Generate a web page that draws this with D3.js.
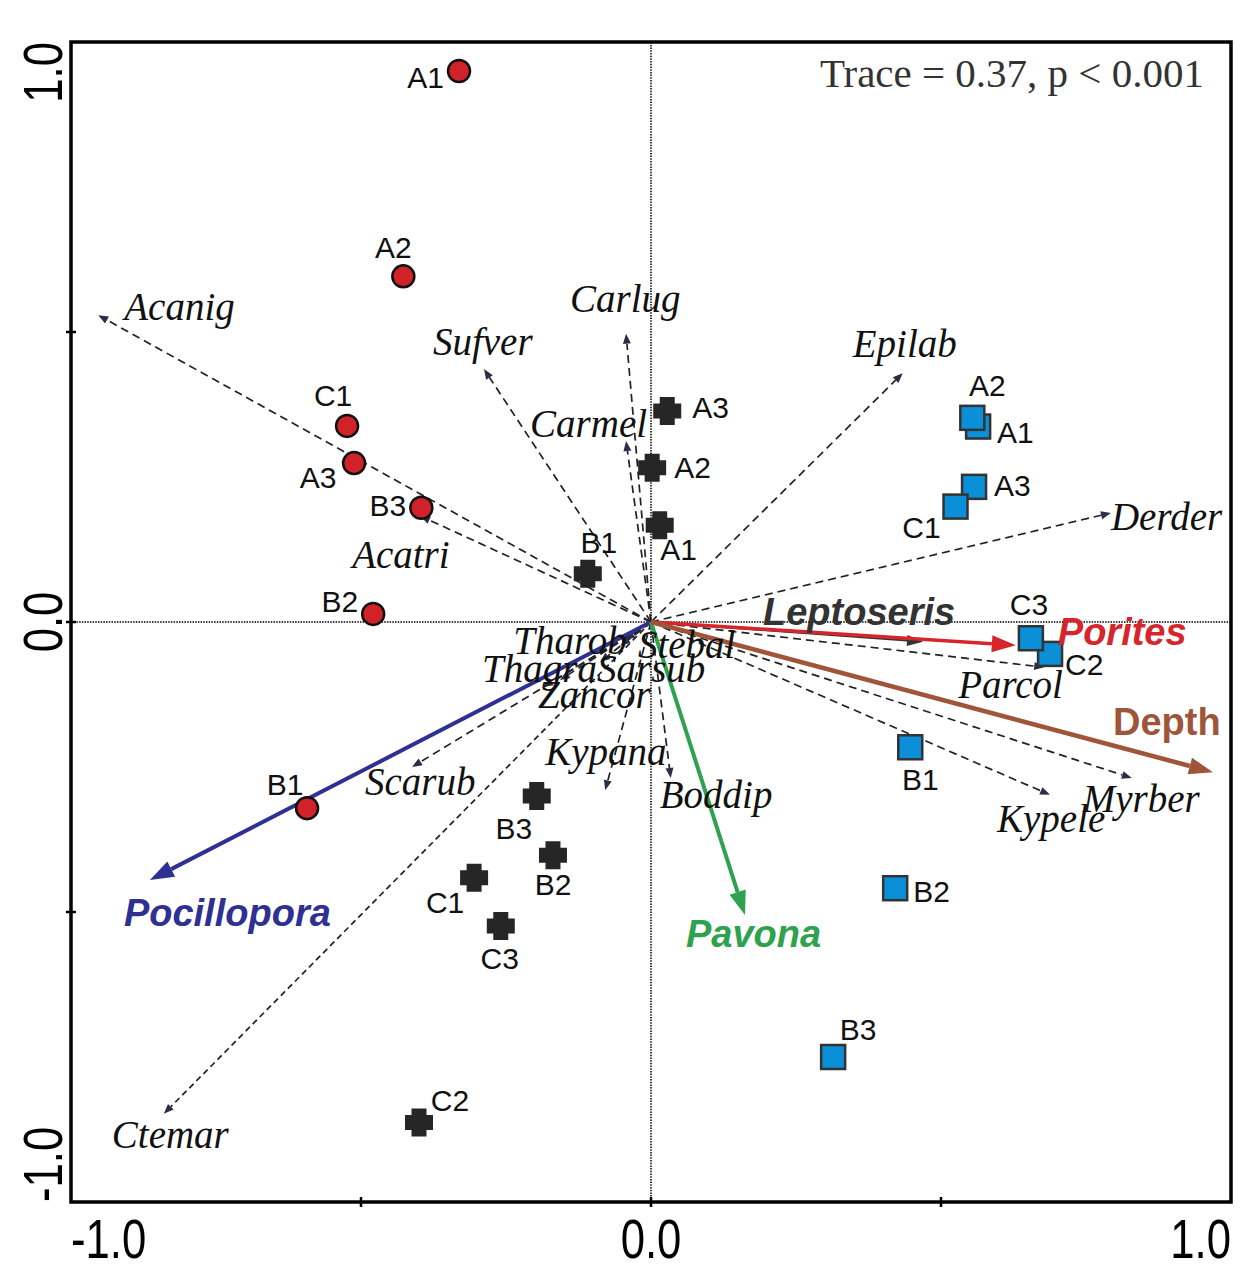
<!DOCTYPE html>
<html>
<head>
<meta charset="utf-8">
<script src="https://cdn.jsdelivr.net/npm/d3@7"></script>
<style>
  body { margin: 0; background: #fff; }
</style>
</head>
<body>
<div id="chart"></div>
<script>
// sample scores on axis 1 / axis 2, one set per group
const circleSites = ['A1', 'A2', 'A3', 'B1', 'B2', 'B3', 'C1'];
const circleAx1 = [-0.331, -0.427, -0.512, -0.593, -0.479, -0.396, -0.524];
const circleAx2 = [0.950, 0.596, 0.274, -0.321, 0.014, 0.197, 0.338];

const crossSites = ['A1', 'A2', 'A3', 'B1', 'B2', 'B3', 'C1', 'C2', 'C3'];
const crossAx1 = [0.015, 0.002, 0.028, -0.109, -0.169, -0.197, -0.305, -0.400, -0.259];
const crossAx2 = [0.167, 0.266, 0.364, 0.083, -0.402, -0.300, -0.441, -0.863, -0.524];

const squareSites = ['A1', 'A2', 'A3', 'B1', 'B2', 'B3', 'C1', 'C2', 'C3'];
const squareAx1 = [0.564, 0.554, 0.557, 0.447, 0.421, 0.314, 0.525, 0.688, 0.655];
const squareAx2 = [0.337, 0.352, 0.233, -0.216, -0.459, -0.750, 0.199, -0.055, -0.028];

// species vectors
const species = ['Acanig', 'Acatri', 'Sufver', 'Carlug', 'Carmel', 'Epilab', 'Derder', 'Parcol', 'Myrber',
  'Kypele', 'Boddip', 'Kypana', 'Zancor', 'Sarsub', 'Thagra', 'Tharob', 'Stebal', 'Scarub', 'Ctemar'];
const speciesAx1 = [-0.953, -0.398, -0.288, -0.043, -0.043, 0.434, 0.793, 0.678, 0.829,
  0.688, 0.034, -0.079, -0.157, -0.088, -0.186, -0.053, -0.045, -0.412, -0.840];
const speciesAx2 = [0.529, 0.183, 0.436, 0.497, 0.312, 0.429, 0.188, -0.078, -0.269,
  -0.298, -0.269, -0.290, -0.100, -0.069, -0.112, -0.041, -0.031, -0.250, -0.848];

// explanatory vectors
const predictors = ['Pocillopora', 'Pavona', 'Leptoseris', 'Porites', 'Depth'];
const predictorAx1 = [-0.864, 0.162, 0.469, 0.629, 0.969];
const predictorAx2 = [-0.445, -0.505, -0.034, -0.040, -0.259];

const minorTicks = [-0.5, 0, 0.5];
const tickValues = [-1, 0, 1];
const tickLabels = ['-1.0', '0.0', '1.0'];
const statText = 'Trace = 0.37, p < 0.001';

// label placement (px offsets from the mark)
const circleLab = { A1: [-15, 17, 'end'], A2: [-10, -18, 'middle'], A3: [-36, 25, 'middle'], B1: [-22, -13, 'middle'],
  B2: [-15, -2, 'end'], B3: [-15, 8, 'end'], C1: [-14, -20, 'middle'] };
const crossLab = { A1: [19, 35, 'middle'], A2: [22, 10, 'start'], A3: [25, 7, 'start'], B1: [11, -21, 'middle'],
  B2: [0, 40, 'middle'], B3: [-23, 43, 'middle'], C1: [-29, 35, 'middle'], C2: [31, -12, 'middle'], C3: [-1, 43, 'middle'] };
const squareLab = { A1: [19, 16, 'start'], A2: [15, -22, 'middle'], A3: [20, 9, 'start'], B1: [10, 43, 'middle'],
  B2: [18, 14, 'start'], B3: [25, -17, 'middle'], C1: [-34, 31, 'middle'], C2: [15, 21, 'start'], C3: [-2, -23, 'middle'] };
const speciesLab = { Acanig: [26, 5], Acatri: [-68, 52], Sufver: [-51, -14], Carlug: [-56, -22], Carmel: [-96, -4],
  Epilab: [-50, -16], Derder: [0, 17], Parcol: [-86, 31], Myrber: [-49, 34], Kypele: [-53, 37], Boddip: [-11, 30],
  Kypana: [-60, -25], Zancor: [-22, 28], Sarsub: [-3, 20], Thagra: [-61, -5], Tharob: [-107, 8], Stebal: [13, 18],
  Scarub: [-47, 28], Ctemar: [-52, 34] };
const predictorStyle = {
  Pocillopora: { color: '#2e3192', w: 4, lab: [-26, 46], italic: true },
  Pavona: { color: '#2ea24e', w: 4, lab: [-59, 32], italic: true },
  Leptoseris: { color: '#333333', w: 2, lab: [-160, -17], italic: true },
  Porites: { color: '#d7262b', w: 3.5, lab: [42, 0], italic: true },
  Depth: { color: '#a0553a', w: 4.5, lab: [-100, -37], italic: false }
};

const W = 1260, H = 1276;
const x = d3.scaleLinear().domain([-1, 1]).range([71, 1231]);
const y = d3.scaleLinear().domain([-1, 1]).range([1202, 42]);

const svg = d3.select('#chart').append('svg')
  .attr('width', W)
  .attr('height', H)
  .style('font-family', 'Arial, "Liberation Sans", sans-serif');

svg.append('rect').attr('width', W).attr('height', H).attr('fill', '#fff');

// dotted zero lines
svg.append('line')
  .attr('x1', x(-1)).attr('x2', x(1)).attr('y1', y(0)).attr('y2', y(0))
  .attr('stroke', '#000').attr('stroke-width', 1.5).attr('stroke-dasharray', '1.5,1.2');
svg.append('line')
  .attr('x1', x(0)).attr('x2', x(0)).attr('y1', y(-1)).attr('y2', y(1))
  .attr('stroke', '#000').attr('stroke-width', 1.5).attr('stroke-dasharray', '1.5,1.2');

// draws a line from the origin with a triangular head at (tx, ty)
function vector(g, tx, ty, len, half) {
  const ox = x(0), oy = y(0);
  const ang = Math.atan2(ty - oy, tx - ox);
  const c = Math.cos(ang), s = Math.sin(ang);
  const bx = tx - len * c, by = ty - len * s;
  const line = g.append('line').attr('x1', ox).attr('y1', oy).attr('x2', bx).attr('y2', by);
  const head = g.append('path')
    .attr('d', 'M' + tx + ',' + ty +
      'L' + (bx - half * s) + ',' + (by + half * c) +
      'L' + (bx + half * s) + ',' + (by - half * c) + 'Z');
  return { line, head };
}

// species vectors (dashed)
const spG = svg.append('g');
species.forEach((name, i) => {
  const v = vector(spG, x(speciesAx1[i]), y(speciesAx2[i]), 10, 4);
  v.line.attr('stroke', '#222').attr('stroke-width', 1.7)
    .attr('stroke-dasharray', name === 'Ctemar' ? '6,4' : '8,5');
  v.head.attr('fill', '#2d2d48');
});

// explanatory vectors (solid)
const prG = svg.append('g');
predictors.forEach((name, i) => {
  const st = predictorStyle[name];
  const small = name === 'Leptoseris';
  const v = vector(prG, x(predictorAx1[i]), y(predictorAx2[i]), small ? 16 : 24, small ? 5.5 : 8.5);
  v.line.attr('stroke', st.color).attr('stroke-width', st.w);
  v.head.attr('fill', st.color);
});

// sample markers
const crossType = {
  draw(ctx) {
    const a = 14, b = 7.5;
    ctx.moveTo(-b, -a); ctx.lineTo(b, -a); ctx.lineTo(b, -b); ctx.lineTo(a, -b); ctx.lineTo(a, b);
    ctx.lineTo(b, b); ctx.lineTo(b, a); ctx.lineTo(-b, a); ctx.lineTo(-b, b); ctx.lineTo(-a, b);
    ctx.lineTo(-a, -b); ctx.lineTo(-b, -b); ctx.closePath();
  }
};

const mk = svg.append('g');
mk.selectAll('.cross').data(crossSites).enter().append('path')
  .attr('class', 'cross')
  .attr('d', d3.symbol().type(crossType)())
  .attr('transform', (d, i) => 'translate(' + x(crossAx1[i]) + ',' + y(crossAx2[i]) + ')')
  .attr('fill', '#262626');

mk.selectAll('.sq').data(squareSites).enter().append('rect')
  .attr('class', 'sq')
  .attr('x', (d, i) => x(squareAx1[i]) - 12)
  .attr('y', (d, i) => y(squareAx2[i]) - 12)
  .attr('width', 24).attr('height', 24)
  .attr('fill', '#0a8fd8').attr('stroke', '#333').attr('stroke-width', 2.5);

mk.selectAll('.dot').data(circleSites).enter().append('circle')
  .attr('class', 'dot')
  .attr('cx', (d, i) => x(circleAx1[i]))
  .attr('cy', (d, i) => y(circleAx2[i]))
  .attr('r', 11)
  .attr('fill', '#d12229').attr('stroke', '#111').attr('stroke-width', 2.5);

// sample labels
function siteLabels(sites, ax1, ax2, lab) {
  svg.append('g').selectAll('text').data(sites).enter().append('text')
    .attr('x', (d, i) => x(ax1[i]) + lab[d][0])
    .attr('y', (d, i) => y(ax2[i]) + lab[d][1])
    .attr('text-anchor', d => lab[d][2])
    .attr('font-size', 30)
    .attr('fill', '#111')
    .text(d => d);
}
siteLabels(circleSites, circleAx1, circleAx2, circleLab);
siteLabels(crossSites, crossAx1, crossAx2, crossLab);
siteLabels(squareSites, squareAx1, squareAx2, squareLab);

// species labels
svg.append('g').selectAll('text').data(species).enter().append('text')
  .attr('x', (d, i) => x(speciesAx1[i]) + speciesLab[d][0])
  .attr('y', (d, i) => y(speciesAx2[i]) + speciesLab[d][1])
  .attr('font-family', '"Liberation Serif", "Times New Roman", serif')
  .attr('font-style', 'italic')
  .attr('font-size', 39)
  .attr('fill', '#111')
  .text(d => d);

// predictor labels
svg.append('g').selectAll('text').data(predictors).enter().append('text')
  .attr('x', (d, i) => x(predictorAx1[i]) + predictorStyle[d].lab[0])
  .attr('y', (d, i) => y(predictorAx2[i]) + predictorStyle[d].lab[1])
  .attr('font-weight', 'bold')
  .attr('font-style', d => predictorStyle[d].italic ? 'italic' : 'normal')
  .attr('font-size', 38)
  .attr('fill', d => predictorStyle[d].color)
  .text(d => d);

// frame
svg.append('rect')
  .attr('x', x(-1)).attr('y', y(1))
  .attr('width', x(1) - x(-1)).attr('height', y(-1) - y(1))
  .attr('fill', 'none').attr('stroke', '#000').attr('stroke-width', 3.5);

// ticks
svg.append('g').selectAll('line').data(minorTicks).enter().append('line')
  .attr('x1', d => x(d)).attr('x2', d => x(d))
  .attr('y1', y(-1) - 5).attr('y2', y(-1) + 5)
  .attr('stroke', '#000').attr('stroke-width', 2.5);
svg.append('g').selectAll('line').data(minorTicks).enter().append('line')
  .attr('y1', d => y(d)).attr('y2', d => y(d))
  .attr('x1', x(-1) - 5).attr('x2', x(-1) + 5)
  .attr('stroke', '#000').attr('stroke-width', 2.5);

const anchors = ['start', 'middle', 'end'];
svg.append('g').selectAll('text').data(tickValues).enter().append('text')
  .attr('transform', d => 'translate(' + x(d) + ',1258) scale(0.78,1)')
  .attr('text-anchor', (d, i) => anchors[i])
  .attr('font-size', 56)
  .attr('fill', '#000')
  .text((d, i) => tickLabels[i]);
svg.append('g').selectAll('text').data(tickValues).enter().append('text')
  .attr('transform', d => 'translate(62,' + y(d) + ') rotate(-90) scale(0.78,1)')
  .attr('text-anchor', (d, i) => anchors[i])
  .attr('font-size', 56)
  .attr('fill', '#000')
  .text((d, i) => tickLabels[i]);

// statistic
svg.append('text')
  .attr('x', 1204).attr('y', 87)
  .attr('text-anchor', 'end')
  .attr('font-family', '"Liberation Serif", "Times New Roman", serif')
  .attr('font-size', 41)
  .attr('fill', '#333')
  .text(statText);
</script>
</body>
</html>
